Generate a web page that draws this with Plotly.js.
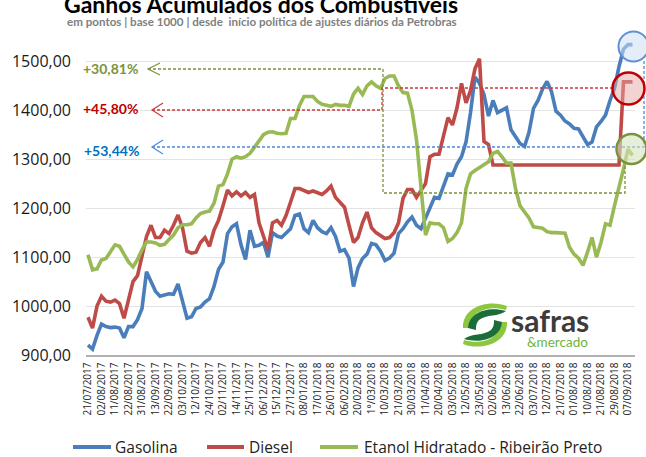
<!DOCTYPE html>
<html><head><meta charset="utf-8">
<script src="https://cdn.plot.ly/plotly-3.0.1.min.js"></script>
<style>html,body{margin:0;padding:0;background:#fff;} #chart{width:646px;height:457px;}</style>
</head><body><div id="chart"></div>
<script>
const dates = ["21/07/2017","02/08/2017","11/08/2017","22/08/2017","31/08/2017","13/09/2017","22/09/2017","03/10/2017","12/10/2017","24/10/2017","02/11/2017","14/11/2017","25/11/2017","06/12/2017","15/12/2017","27/12/2017","08/01/2018","17/01/2018","26/01/2018","06/02/2018","20/02/2018","1°/03/2018","10/03/2018","21/03/2018","30/03/2018","11/04/2018","20/04/2018","03/05/2018","12/05/2018","23/05/2018","02/06/2018","13/06/2018","22/06/2018","03/07/2018","12/07/2018","21/07/2018","01/08/2018","10/08/2018","21/08/2018","29/08/2018","07/09/2018"];

const gasolina = [920,912,940,963,958,956,957,955,935,958,
 958,972,995,1070,1050,1030,1020,1022,1025,1024,
 1045,1010,975,978,995,998,1008,1015,1040,1075,
 1090,1148,1162,1168,1125,1095,1155,1122,1124,1130,
 1100,1150,1143,1140,1150,1158,1185,1188,1158,1150,
 1175,1160,1152,1148,1160,1142,1112,1115,1098,1040,
 1078,1097,1106,1128,1125,1112,1093,1098,1108,1148,
 1158,1172,1182,1165,1158,1180,1200,1222,1220,1247,
 1270,1268,1290,1305,1335,1395,1468,1455,1432,1388,
 1420,1395,1400,1405,1360,1345,1332,1326,1355,1404,
 1420,1443,1459,1438,1398,1390,1378,1372,1363,1362,
 1346,1330,1335,1366,1377,1390,1420,1445,1489,1525,
 1534,1534];

const diesel = [977,955,1000,1020,1010,1008,1012,1005,975,1015,
 1050,1062,1105,1142,1165,1140,1140,1155,1148,1165,
 1186,1160,1112,1108,1110,1130,1140,1122,1155,1175,
 1205,1237,1225,1233,1225,1232,1222,1228,1170,1140,
 1115,1170,1175,1165,1185,1212,1240,1240,1235,1232,
 1235,1232,1228,1235,1245,1222,1212,1202,1165,1130,
 1140,1170,1192,1160,1150,1145,1138,1140,1150,1170,
 1220,1238,1238,1222,1235,1250,1305,1310,1310,1345,
 1385,1370,1405,1455,1415,1440,1485,1505,1336,1330,
 1288,1288,1288,1288,1288,1288,1288,1288,1288,1288,
 1288,1288,1288,1288,1288,1288,1288,1288,1288,1288,
 1288,1288,1288,1288,1288,1288,1288,1288,1288,1458,
 1458,1458];

const etanol = [1105,1074,1076,1094,1097,1111,1125,1122,1106,1090,
 1080,1095,1115,1131,1131,1129,1124,1126,1136,1145,
 1160,1166,1166,1168,1180,1189,1192,1194,1210,1245,
 1248,1270,1300,1305,1302,1305,1312,1325,1340,1350,
 1355,1356,1353,1352,1353,1383,1383,1410,1428,1428,
 1428,1418,1412,1410,1408,1412,1410,1410,1408,1433,
 1445,1432,1450,1458,1450,1445,1465,1470,1470,1450,
 1436,1435,1400,1340,1245,1145,1170,1168,1168,1160,
 1132,1138,1150,1170,1240,1270,1277,1283,1288,1295,
 1312,1316,1305,1292,1292,1240,1205,1193,1180,1162,
 1160,1159,1152,1150,1150,1150,1149,1120,1106,1098,
 1083,1110,1140,1100,1130,1168,1165,1205,1240,1280,
 1320,1308];

const seriesNames = ["Gasolina","Diesel","Etanol Hidratado - Ribeirão Preto"];
const seriesColors = ["#4A7EBB","#BE4B48","#98B954"];
const gainLabels = ["+30,81%","+45,80%","+53,44%"];
const yTicks = [900,1000,1100,1200,1300,1400,1500];
const pointsPerLabel = 3;
const xPos = gasolina.map((_, k) => k / pointsPerLabel);

// plot frame (pixels)
const L = 86, R = 635, T = 12, B = 355;
const labelPx0 = 88, labelStep = 13.5, pxPerUnit = 0.4895;
const PX = x => (x - L) / (R - L);
const PY = y => (B - y) / (B - T);
const tp = s => s.replace(/(-?[\d.]+),(-?[\d.]+)/g, (m, a, b) => PX(+a).toFixed(5) + ',' + PY(+b).toFixed(5));

const traces = [gasolina, diesel, etanol].map((vals, i) => ({
  type: 'scatter', mode: 'lines', name: seriesNames[i],
  x: xPos, y: vals, showlegend: false,
  line: {color: seriesColors[i], width: 3.6},
  hoverinfo: 'skip'
}));

function pshape(d, color, width, dash, fill) {
  const s = {type: 'path', xref: 'paper', yref: 'paper', path: tp(d),
    line: {color: color, width: width, dash: dash || 'solid'}, layer: 'above'};
  if (fill) { s.fillcolor = fill; s.line.width = 0; }
  return s;
}
function circ(cx, cy, r, fill, color, w) {
  return {type: 'circle', xref: 'paper', yref: 'paper',
    x0: PX(cx - r), x1: PX(cx + r), y0: PY(cy + r), y1: PY(cy - r),
    fillcolor: fill, line: {color: color, width: w}, layer: 'above'};
}

// legend (drawn by hand to match the original spacing)
const legendY = 447;
const legendLines = [[73, 111], [207, 244], [320, 358]];
const legendText = [113, 247, 362];

const shapes = [
  pshape('M148,69 L383,69 L383,193 L625,193 L625,164', '#77933C', 1.3, '3px,2px'),
  pshape('M160,63 L148,69 L160,75', '#77933C', 1.2),
  pshape('M152,110 L382,110 L382,88 L613,88', '#CC3A3A', 1.3, '3px,2px'),
  pshape('M163,103 L152,110 L163,117', '#CC3A3A', 1.2),
  pshape('M152,147 L644,147 L644,60', '#4A8BDB', 1.3, '3px,2px'),
  pshape('M163,140 L152,147 L163,154', '#4A8BDB', 1.2),
  circ(633.5, 46.5, 15, 'rgba(205,222,245,0.55)', '#5B8FD6', 2),
  circ(628.5, 88.5, 16, 'rgba(232,165,165,0.5)', '#C00000', 2.5),
  circ(631.5, 149, 15, 'rgba(214,227,188,0.6)', '#77933C', 2.5),
  // logo swoosh
  pshape('M463,328 C462,306 490,299 507,306 L506,310 C490,305 471,310 468,328 Z', null, 0, null, '#8DC63F'),
  pshape('M468,328 C469,312 488,306 506,311 C499,317 486,314 479,320 C476,323 476,327 476,330 Z', null, 0, null, '#1B6E3A'),
  pshape('M507,322 C508,344 480,351 463,344 L464,340 C480,345 499,340 502,322 Z', null, 0, null, '#8DC63F'),
  pshape('M502,322 C501,338 482,344 464,339 C471,333 484,336 491,330 C494,327 494,323 494,320 Z', null, 0, null, '#1B6E3A')
].concat(legendLines.map((p, i) => ({type: 'line', xref: 'paper', yref: 'paper',
  x0: PX(p[0]), x1: PX(p[1]), y0: PY(legendY), y1: PY(legendY),
  line: {color: seriesColors[i], width: 4}, layer: 'above'})));

function ann(text, x, y, size, color, opts) {
  return Object.assign({text: text, xref: 'paper', yref: 'paper', x: PX(x), y: PY(y),
    xanchor: 'left', yanchor: 'middle', showarrow: false,
    font: {family: 'Lato, sans-serif', size: size, color: color}}, opts || {});
}

const annotations = [
  ann('<b>Ganhos Acumulados dos Combustíveis</b>', 261, 4, 23, '#000', {xanchor: 'center'}),
  ann('<b>em pontos | base 1000 | desde  início política de ajustes diários da Petrobras</b>', 262, 21, 11.6, '#7F7F7F', {xanchor: 'center'}),
  ann('<b>' + gainLabels[0] + '</b>', 81, 69, 14, '#77933C'),
  ann('<b>' + gainLabels[1] + '</b>', 81, 108, 14, '#C00000'),
  ann('<b>' + gainLabels[2] + '</b>', 82, 150, 14, '#0070C0'),
  ann('<b>safras</b>', 509, 320, 30, '#3C3C3C'),
  ann('&mercado', 525, 342, 13.5, '#6DB33F')
].concat(seriesNames.map((n, i) => ann(n, legendText[i], legendY, 15, '#222',
  {font: {family: '"Open Sans", sans-serif', size: 15.5, color: '#222'}})));

const layout = {
  width: 646, height: 457,
  margin: {l: L, r: 646 - R, t: T, b: 457 - B, pad: 0, autoexpand: false},
  paper_bgcolor: '#fff', plot_bgcolor: '#fff',
  separators: ',.',
  font: {family: 'Lato, sans-serif', color: '#222'},
  showlegend: false,
  xaxis: {range: [(L - labelPx0) / labelStep, (R - labelPx0) / labelStep],
    tickmode: 'array', tickvals: dates.map((_, i) => i), ticktext: dates,
    tickangle: -90, tickfont: {family: '"Open Sans", sans-serif', size: 10, color: '#222'},
    showgrid: false, zeroline: false, showline: true, linecolor: '#B0B0B0', linewidth: 1.5,
    ticks: '', ticklabelstandoff: 2, fixedrange: true, automargin: false},
  yaxis: {range: [900, 900 + (B - T) / pxPerUnit], tickmode: 'array', tickvals: yTicks,
    tickformat: '.2f', tickfont: {family: '"Open Sans", sans-serif', size: 16, color: '#1a1a1a'},
    showgrid: true, gridcolor: '#E3E3E3', gridwidth: 1, zeroline: false, showline: false,
    ticks: '', ticklabelstandoff: 14, fixedrange: true, automargin: false},
  shapes: shapes,
  annotations: annotations
};

Plotly.newPlot('chart', traces, layout, {displayModeBar: false, staticPlot: true});
</script></body></html>
